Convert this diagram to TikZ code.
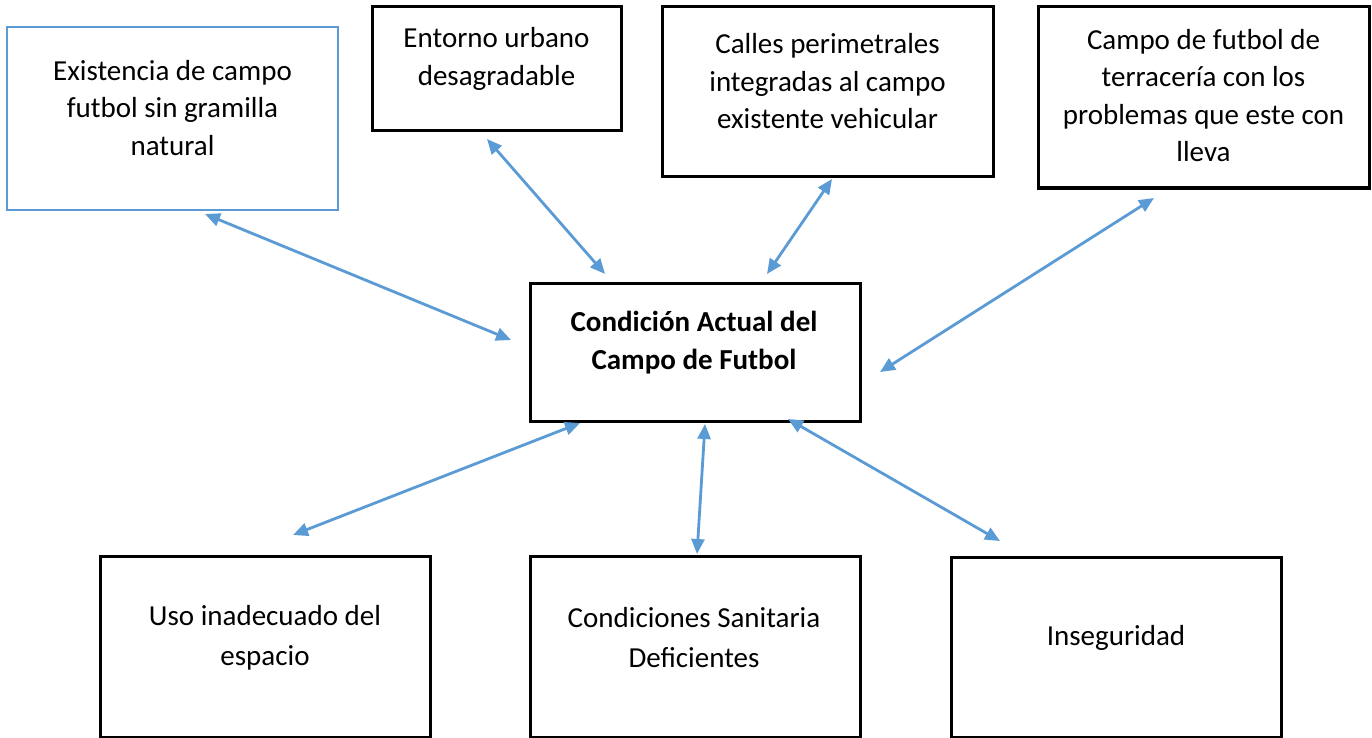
\documentclass[tikz,border=0pt]{standalone}
\usepackage{fontspec}
\setmainfont{Carlito}
\usetikzlibrary{arrows.meta}
\definecolor{arrblue}{RGB}{91,155,213}
\tikzset{
  box/.style={draw=black,line width=3pt,rectangle,inner sep=0pt},
  bluebox/.style={draw=arrblue,line width=2.8pt,rectangle,inner sep=0pt},
  txt/.style={align=center,inner sep=0pt,font=\fontsize{29}{37.5}\selectfont},
  link/.style={draw=arrblue,line width=2.8pt,{Triangle[length=15pt,width=13pt]}-{Triangle[length=15pt,width=13pt]}}
}
\begin{document}
\begin{tikzpicture}[x=1pt,y=-1pt]
\useasboundingbox (0,0) rectangle (1372,738);
\fill[white] (0,0) rectangle (1372,738);
% boxes
\node[bluebox,minimum width=331pt,minimum height=183pt] (A) at (172.5,118.5) {};
\node[box,minimum width=249pt,minimum height=124pt] (B) at (496.5,69) {};
\node[box,minimum width=331pt,minimum height=170pt] (C) at (827.5,92) {};
\node[box,minimum width=331pt,minimum height=181pt] (D) at (1203.5,97.5) {};
\node[box,minimum width=330pt,minimum height=138pt] (M) at (695,352) {};
\node[box,minimum width=330pt,minimum height=181pt] (E) at (265,646.5) {};
\node[box,minimum width=330pt,minimum height=181pt] (F) at (695,646.5) {};
\node[box,minimum width=330pt,minimum height=180pt] (G) at (1116,647) {};
% texts
\node[txt] (At) at (172.5,108) {Existencia de campo\\futbol sin gramilla\\natural};
\node[txt] (Bt) at (496.5,59) {Entorno urbano\\desagradable};
\node[txt] (Ct) at (827.5,81.5) {Calles perimetrales\\integradas al campo\\existente vehicular};
\node[txt] (Dt) at (1203.5,95.5) {Campo de futbol de\\terracería con los\\problemas que este con\\lleva};
\node[txt,font=\fontsize{29}{38}\selectfont\bfseries] (Mt) at (694,343) {Condición Actual del\\Campo de Futbol};
\node[txt,font=\fontsize{29}{40}\selectfont] (Et) at (265,638) {Uso inadecuado del\\espacio};
\node[txt,font=\fontsize{29}{40}\selectfont] (Ft) at (694,638) {Condiciones Sanitaria\\Deficientes};
\node[txt] (Gt) at (1116,638) {Inseguridad};
% arrow end points
\coordinate (a1) at (205,214);
\coordinate (a2) at (511,340);
\coordinate (b1) at (487,139);
\coordinate (b2) at (605,274);
\coordinate (c1) at (832,179);
\coordinate (c2) at (767,274);
\coordinate (d1) at (1154,198);
\coordinate (d2) at (880,372);
\coordinate (e1) at (580,423);
\coordinate (e2) at (293,535);
\coordinate (f1) at (705,424);
\coordinate (f2) at (697,554);
\coordinate (g1) at (788,419);
\coordinate (g2) at (1000,541);
\draw[link] (a1) -- (a2);
\draw[link] (b1) -- (b2);
\draw[link] (c1) -- (c2);
\draw[link] (d1) -- (d2);
\draw[link] (e1) -- (e2);
\draw[link] (f1) -- (f2);
\draw[link] (g1) -- (g2);
\end{tikzpicture}
\end{document}
